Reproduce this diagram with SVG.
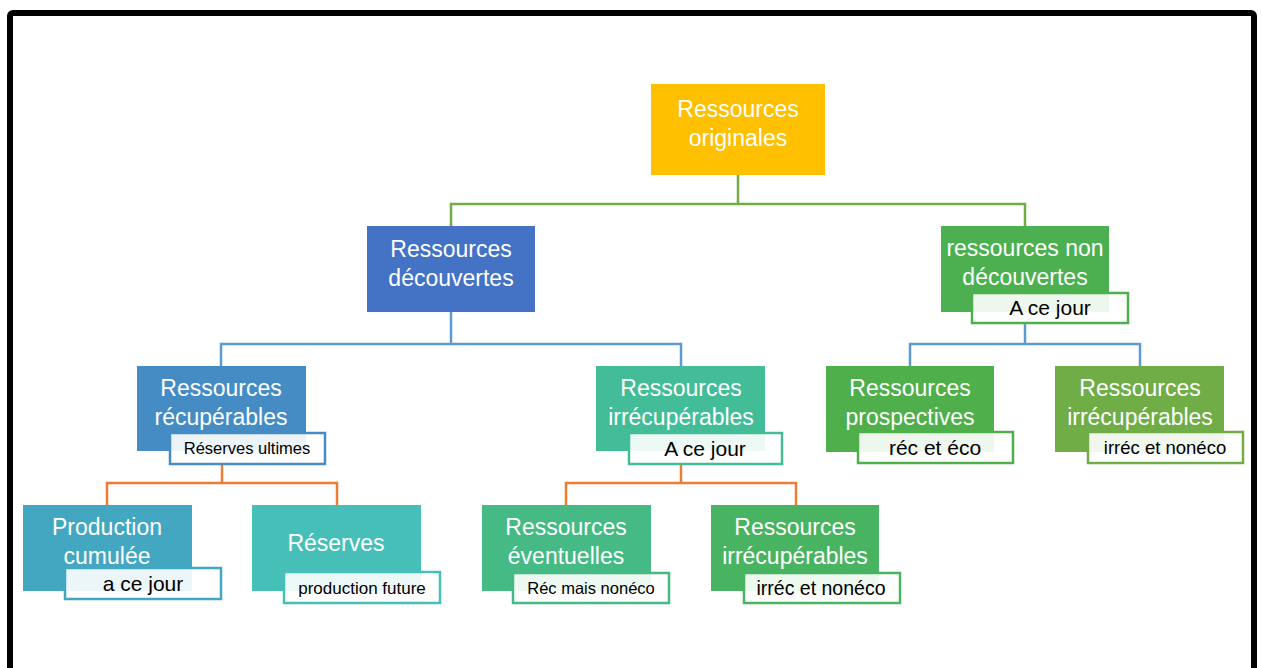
<svg xmlns="http://www.w3.org/2000/svg" width="1262" height="668" viewBox="0 0 1262 668">
<style>
.t{font-family:"Liberation Sans",Arial,sans-serif;font-size:23px;fill:#fff;text-anchor:middle}
.l{font-family:"Liberation Sans",Arial,sans-serif;fill:#000;text-anchor:middle}
.lb{fill:#fff;fill-opacity:0.9;stroke-width:2.5}
.c{fill:none;stroke-width:2.5}
</style>
<rect x="10" y="13" width="1244" height="720" rx="3" fill="#fff" stroke="#000" stroke-width="6"/>
<g id="connectors">
<path class="c" stroke="#70AD47" d="M738 175V204M451 226V204H1025V226"/>
<path class="c" stroke="#5B9BD5" d="M451 312V344M221 366V344H681V366"/>
<path class="c" stroke="#5B9BD5" d="M1025 323V344M910 366V344H1140V366"/>
<path class="c" stroke="#ED7D31" d="M222 464V483M107 505V483H337V505"/>
<path class="c" stroke="#ED7D31" d="M681 464V483M566 505V483H796V505"/>
</g>
<g id="n-originales">
<rect x="651" y="84" width="174" height="91" fill="#FFC000"/>
<text class="t" x="738" y="117">Ressources</text>
<text class="t" x="738" y="146">originales</text>
</g>
<g id="n-decouvertes">
<rect x="367" y="226" width="168" height="86" fill="#4472C4"/>
<text class="t" x="451" y="257">Ressources</text>
<text class="t" x="451" y="286">découvertes</text>
</g>
<g id="n-nondecouvertes">
<rect x="941" y="226" width="168" height="86" fill="#4CB050"/>
<text class="t" x="1025" y="256">ressources non</text>
<text class="t" x="1025" y="285">découvertes</text>
<rect class="lb" x="972" y="293" width="156" height="30" stroke="#4CB050"/>
<text class="l" x="1050" y="315" font-size="21">A ce jour</text>
</g>
<g id="n-recuperables">
<rect x="137" y="366" width="169" height="85" fill="#448CC3"/>
<text class="t" x="221" y="396">Ressources</text>
<text class="t" x="221" y="425">récupérables</text>
<rect class="lb" x="170" y="433" width="155" height="31" stroke="#448CC3"/>
<text class="l" x="247" y="454" font-size="16.5">Réserves ultimes</text>
</g>
<g id="n-irrecup-mid">
<rect x="596" y="366" width="169" height="85" fill="#43BD98"/>
<text class="t" x="681" y="396">Ressources</text>
<text class="t" x="681" y="425">irrécupérables</text>
<rect class="lb" x="629" y="433" width="153" height="31" stroke="#43BD98"/>
<text class="l" x="705" y="456" font-size="21">A ce jour</text>
</g>
<g id="n-prospectives">
<rect x="826" y="366" width="168" height="86" fill="#4FAF4B"/>
<text class="t" x="910" y="396">Ressources</text>
<text class="t" x="910" y="425">prospectives</text>
<rect class="lb" x="858" y="432" width="155" height="31" stroke="#4FAF4B"/>
<text class="l" x="935" y="455" font-size="21">réc et éco</text>
</g>
<g id="n-irrecup-right">
<rect x="1055" y="366" width="169" height="86" fill="#70AD47"/>
<text class="t" x="1140" y="396">Ressources</text>
<text class="t" x="1140" y="425">irrécupérables</text>
<rect class="lb" x="1088" y="432" width="155" height="31" stroke="#70AD47"/>
<text class="l" x="1165" y="454" font-size="18.5">irréc et nonéco</text>
</g>
<g id="n-production">
<rect x="23" y="505" width="169" height="86" fill="#43A7C2"/>
<text class="t" x="107" y="535">Production</text>
<text class="t" x="107" y="564">cumulée</text>
<rect class="lb" x="65" y="568" width="156" height="31" stroke="#43A7C2"/>
<text class="l" x="143" y="591" font-size="21">a ce jour</text>
</g>
<g id="n-reserves">
<rect x="252" y="505" width="169" height="86" fill="#46BFB8"/>
<text class="t" x="336" y="551">Réserves</text>
<rect class="lb" x="284" y="572" width="156" height="31" stroke="#46BFB8"/>
<text class="l" x="362" y="594" font-size="17">production future</text>
</g>
<g id="n-eventuelles">
<rect x="482" y="505" width="169" height="86" fill="#45BA84"/>
<text class="t" x="566" y="535">Ressources</text>
<text class="t" x="566" y="564">éventuelles</text>
<rect class="lb" x="513" y="573" width="156" height="30" stroke="#45BA84"/>
<text class="l" x="591" y="594" font-size="16.5">Réc mais nonéco</text>
</g>
<g id="n-irrecup-bottom">
<rect x="711" y="505" width="168" height="86" fill="#48B462"/>
<text class="t" x="795" y="535">Ressources</text>
<text class="t" x="795" y="564">irrécupérables</text>
<rect class="lb" x="744" y="573" width="156" height="30" stroke="#48B462"/>
<text class="l" x="821" y="595" font-size="19.5">irréc et nonéco</text>
</g>
</svg>
